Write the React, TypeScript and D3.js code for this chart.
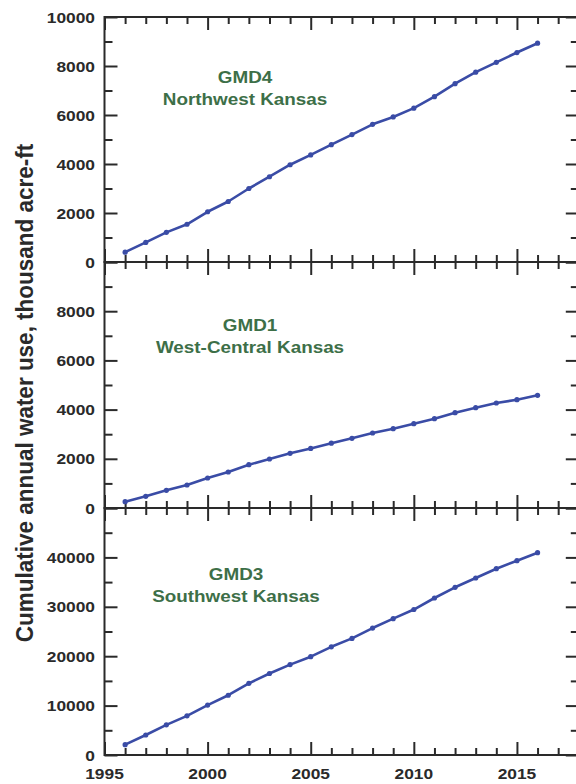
import React, { useEffect, useRef } from "react";
import * as d3 from "d3";

// Years of record
const years = d3.range(1996, 2017);

// Cumulative annual water use, thousand acre-ft
const gmd4Values = [400, 800, 1210, 1540, 2050, 2470, 3000, 3480, 3970, 4370, 4790, 5200, 5620, 5920, 6280, 6750, 7280, 7750, 8150, 8550, 8930];
const gmd1Values = [256, 476, 720, 935, 1220, 1463, 1760, 1992, 2222, 2420, 2636, 2833, 3049, 3224, 3427, 3630, 3874, 4077, 4268, 4402, 4581];
const gmd3Values = [2100, 4050, 6100, 7930, 10100, 12100, 14500, 16500, 18300, 19900, 21900, 23600, 25700, 27600, 29450, 31780, 33950, 35830, 37710, 39330, 40950];

const gmd4Ticks = [0, 2000, 4000, 6000, 8000, 10000];
const gmd1Ticks = [0, 2000, 4000, 6000, 8000];
const gmd3Ticks = [0, 10000, 20000, 30000, 40000];
const xTickLabels = [1995, 2000, 2005, 2010, 2015];

const panels = [
  { id: "gmd4", values: gmd4Values, max: 10000, step: 1000, ticks: gmd4Ticks, top: 17, bottom: 262, title: ["GMD4", "Northwest Kansas"], lx: 245, ly: 83 },
  { id: "gmd1", values: gmd1Values, max: 10000, step: 1000, ticks: gmd1Ticks, top: 262, bottom: 508, title: ["GMD1", "West-Central Kansas"], lx: 250, ly: 331 },
  { id: "gmd3", values: gmd3Values, max: 50000, step: 5000, ticks: gmd3Ticks, top: 508, bottom: 755, title: ["GMD3", "Southwest Kansas"], lx: 236, ly: 580 },
];

const W = 576;
const H = 784;
const INK = "#2a2a2a";
const SERIES = "#3a4ca6";
const GREEN = "#3d6f48";
const FONT = "'Liberation Sans', Arial, Helvetica, sans-serif";

const xScale = d3.scaleLinear().domain([1995, 2018]).range([104.5, 578.8]);

function StretchText({ x: tx, y: ty, sx = 1.12, children, anchor = "middle", size = 15.5, fill = INK, rotate = 0 }: any) {
  return (
    <text
      transform={`translate(${tx},${ty}) scale(${sx},1)${rotate ? ` rotate(${rotate})` : ""}`}
      textAnchor={anchor}
      fontSize={size}
      fontWeight="bold"
      fill={fill}
      fontFamily={FONT}
    >
      {children}
    </text>
  );
}

// Inward tick marks on all four edges, drawn with d3-axis
function PanelTicks({ p }: any) {
  const ref = useRef<SVGGElement>(null);
  useEffect(() => {
    const g = d3.select(ref.current);
    g.selectAll("*").remove();
    const yScale = d3.scaleLinear().domain([0, p.max]).range([p.bottom, p.top]);
    const [x0, x1] = xScale.range();
    const yMajor = d3.range(0, p.max + 1, p.step * 2);
    const yMinor = d3.range(p.step, p.max, p.step * 2);
    const xMajor = d3.range(1995, 2019, 5);
    const xMinor = d3.range(1995, 2019).filter((d) => d % 5 !== 0);

    const add = (axis: any, tf: string) => {
      const a = g.append("g").attr("transform", tf).call(axis.tickFormat(() => "").tickPadding(0));
      a.select(".domain").remove();
      a.selectAll("line").attr("stroke", INK).attr("stroke-width", 2);
    };
    add(d3.axisRight(yScale).tickValues(yMajor).tickSize(13), `translate(${x0},0)`);
    add(d3.axisRight(yScale).tickValues(yMinor).tickSize(8), `translate(${x0},0)`);
    add(d3.axisLeft(yScale).tickValues(yMajor).tickSize(13), `translate(${x1},0)`);
    add(d3.axisLeft(yScale).tickValues(yMinor).tickSize(8), `translate(${x1},0)`);
    add(d3.axisTop(xScale).tickValues(xMajor).tickSize(13), `translate(0,${p.bottom})`);
    add(d3.axisTop(xScale).tickValues(xMinor).tickSize(7), `translate(0,${p.bottom})`);
    add(d3.axisBottom(xScale).tickValues(xMajor).tickSize(13), `translate(0,${p.top})`);
    add(d3.axisBottom(xScale).tickValues(xMinor).tickSize(7), `translate(0,${p.top})`);
  }, [p]);
  return <g ref={ref} />;
}

function Panel({ p }: any) {
  const yScale = d3.scaleLinear().domain([0, p.max]).range([p.bottom, p.top]);
  const lineGen = d3
    .line<number>()
    .x((_, i) => xScale(years[i]))
    .y((v) => yScale(v));
  const [x0, x1] = xScale.range();

  return (
    <g>
      <PanelTicks p={p} />
      {/* frame */}
      <rect x={x0} y={p.top} width={x1 - x0} height={p.bottom - p.top} fill="none" stroke={INK} strokeWidth={2} />
      {/* y tick labels */}
      {p.ticks.map((v: number) => (
        <StretchText key={v} x={95} y={yScale(v) + 5.5} anchor="end">
          {v}
        </StretchText>
      ))}
      {/* series */}
      <path d={lineGen(p.values) || ""} fill="none" stroke={SERIES} strokeWidth={2.6} strokeLinejoin="round" />
      {p.values.map((v: number, i: number) => (
        <circle key={i} cx={xScale(years[i])} cy={yScale(v)} r={2.6} fill={SERIES} />
      ))}
      {/* district label */}
      <StretchText x={p.lx} y={p.ly} size={17} sx={1.11} fill={GREEN}>
        {p.title[0]}
      </StretchText>
      <StretchText x={p.lx} y={p.ly + 22} size={17} sx={1.11} fill={GREEN}>
        {p.title[1]}
      </StretchText>
    </g>
  );
}

export default function App() {
  const last = panels[panels.length - 1];
  return (
    <svg width={W} height={H} style={{ position: "absolute", left: 0, top: 0, background: "#fff" }}>
      <rect width={W} height={H} fill="#fff" />
      {panels.map((p) => (
        <Panel key={p.id} p={p} />
      ))}
      {xTickLabels.map((yr) => (
        <StretchText key={yr} x={xScale(yr)} y={last.bottom + 24}>
          {yr}
        </StretchText>
      ))}
      <StretchText x={33} y={393} size={22.5} sx={1.06} rotate={-90}>
        Cumulative annual water use, thousand acre-ft
      </StretchText>
    </svg>
  );
}
